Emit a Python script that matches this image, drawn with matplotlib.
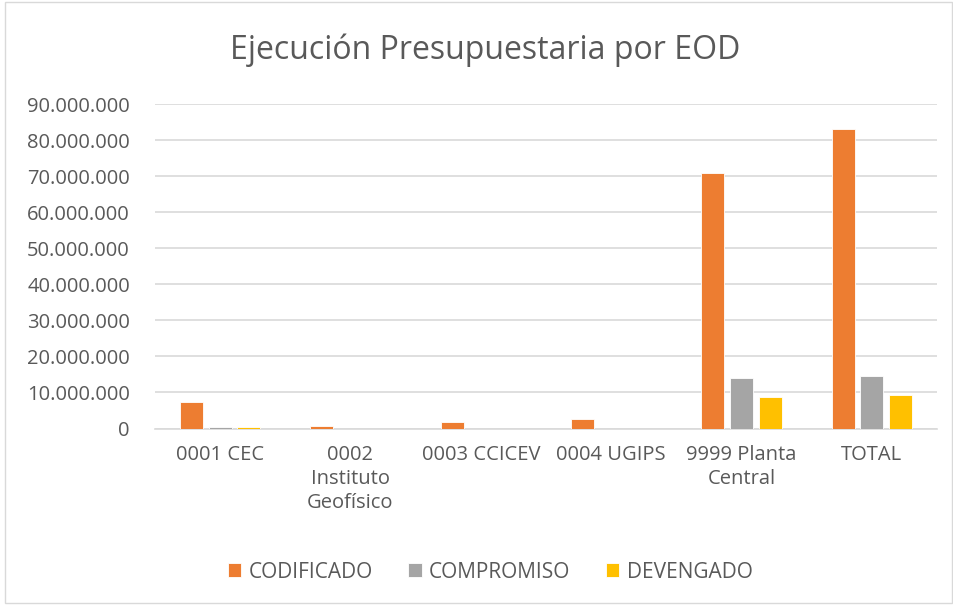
import numpy as np
import matplotlib.pyplot as plt
from matplotlib.ticker import FuncFormatter

categorias = ["0001 CEC", "0002\nInstituto\nGeofísico", "0003 CCICEV", "0004 UGIPS",
              "9999 Planta\nCentral", "TOTAL"]
codificado = [7.3e6, 0.7e6, 1.8e6, 2.5e6, 70.8e6, 83.1e6]
compromiso = [0.5e6, 0.0, 0.0, 0.0, 14.0e6, 14.5e6]
devengado = [0.4e6, 0.0, 0.0, 0.0, 8.6e6, 9.2e6]
series = ["CODIFICADO", "COMPROMISO", "DEVENGADO"]
colores = ["#ED7D31", "#A5A5A5", "#FFC000"]
texto = "#595959"


def main():
    plt.rcParams["font.family"] = ["Open Sans", "DejaVu Sans"]
    fig = plt.figure(figsize=(9.54, 6.05), dpi=100)
    ax = fig.add_axes([155 / 954, 1 - 428.5 / 605, (937 - 155) / 954, (428.5 - 104) / 605])

    x = np.arange(len(categorias))
    paso = 0.22
    ancho = 0.175
    for i, (vals, nombre) in enumerate(zip([codificado, compromiso, devengado], series)):
        ax.bar(x + (i - 1) * paso, vals, width=ancho, color=colores[i], label=nombre,
               edgecolor="white", linewidth=0.6, zorder=3)

    ax.set_xlim(-0.5, len(categorias) - 0.5)
    ax.set_ylim(0, 90e6)
    ax.set_yticks(np.arange(0, 90e6 + 1, 10e6))
    ax.yaxis.set_major_formatter(FuncFormatter(lambda v, p: f"{int(v):,}".replace(",", ".")))
    ax.grid(axis="y", color="#D9D9D9", linewidth=1.2, zorder=0)
    ax.set_axisbelow(True)
    for s in ["top", "right", "left"]:
        ax.spines[s].set_visible(False)
    ax.spines["bottom"].set_color("#D9D9D9")
    ax.spines["bottom"].set_linewidth(1.2)

    ax.set_xticks(x)
    ax.set_xticklabels(categorias, fontsize=14.5, color=texto, linespacing=1.25, va="top")
    ax.tick_params(axis="x", length=0, pad=12)
    ax.tick_params(axis="y", length=0, pad=18, labelsize=14.5, labelcolor=texto)

    fig.text(485 / 954, 1 - 50 / 605, "Ejecución Presupuestaria por EOD", ha="center",
             va="center", fontsize=23, color=texto)

    fig.legend(loc="center", bbox_to_anchor=(490 / 954, 1 - 572 / 605), ncol=3, frameon=False,
               fontsize=15, labelcolor=texto, handlelength=0.65, handleheight=0.65,
               columnspacing=1.7, handletextpad=0.35)

    borde = plt.Rectangle((5.5 / 954, 2 / 605), 947 / 954, 601 / 605, transform=fig.transFigure,
                          fill=False, edgecolor="#D9D9D9", linewidth=1)
    fig.patches.append(borde)

    plt.savefig("out.png", dpi=100)
    plt.close()


if __name__ == "__main__":
    main()
